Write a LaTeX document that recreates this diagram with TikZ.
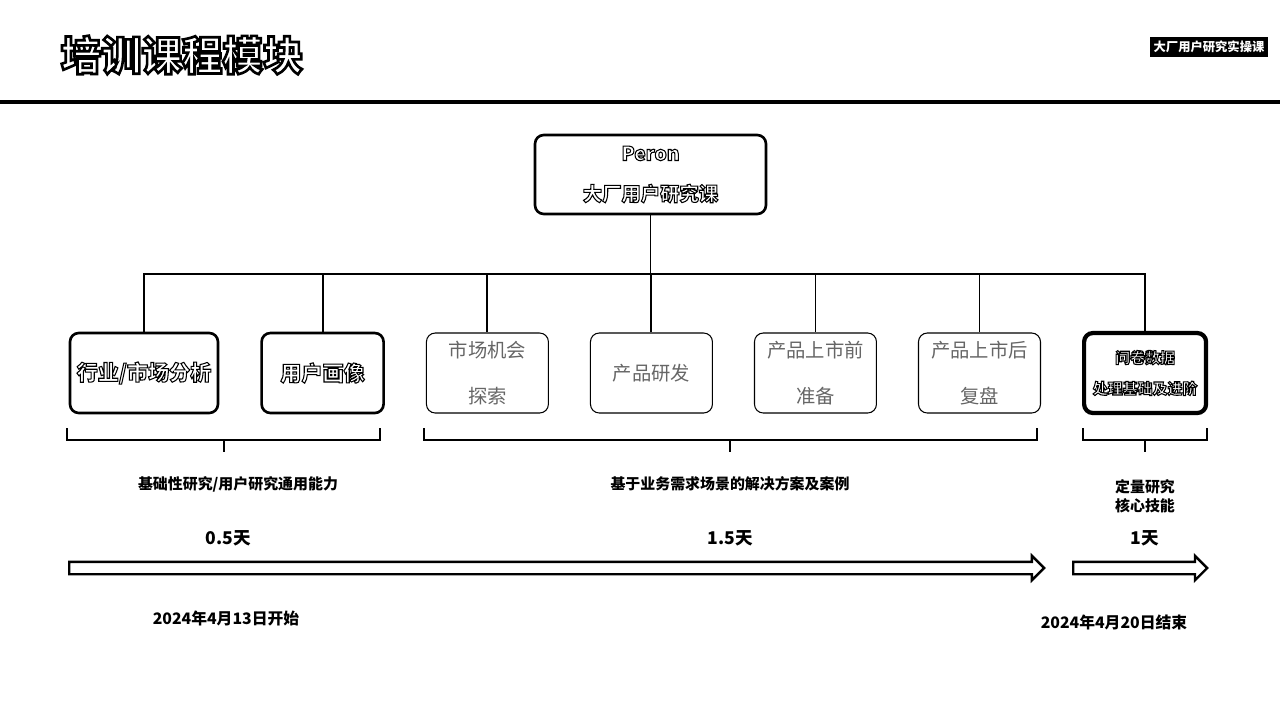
\documentclass[tikz,border=0pt]{standalone}
\usepackage{fontspec}
\setmainfont{Noto Sans CJK SC}
\usetikzlibrary{positioning, shapes.arrows}

% white letters with a black stroke round them
\newcommand{\outl}[2][0.6]{\textcolor{white}{\special{pdf:literal direct 0 G #1 w 2 Tr}#2\special{pdf:literal direct 0 Tr}}}

\begin{document}
\begin{tikzpicture}[
  x=0.02cm, y=-0.02cm,
  node distance=0.82cm,
  module/.style={draw=black, line width=1.5pt, rounded corners=5pt, fill=white,
    minimum width=2.44cm, minimum height=1.6cm, align=center,
    font=\fontsize{12}{26}\selectfont\bfseries},
  faint/.style={module, line width=0.6pt, text=black!60,
    font=\fontsize{11}{26}\selectfont},
  strong/.style={module, line width=2.4pt, font=\fontsize{8.5}{17.5}\selectfont\bfseries},
  label/.style={font=\fontsize{8.5}{11}\selectfont\bfseries, align=center},
  days/.style={font=\fontsize{10}{12}\selectfont\bfseries},
  date/.style={font=\fontsize{9}{11}\selectfont\bfseries},
  link/.style={line width=1.1pt},
  bracket/.style={line width=1.4pt},
  timeline/.style={single arrow, draw=black, line width=1.4pt, fill=white,
    single arrow head extend=0.12cm, single arrow head indent=0pt,
    inner sep=0.1cm, anchor=tail}
]
\useasboundingbox (0,0) rectangle (1280,718);

% header
\node (title) at (182,55) {\fontsize{23}{26}\selectfont\bfseries\outl[1.5]{培训课程模块}};
\node[fill=black, text=white, minimum width=2.36cm, minimum height=0.4cm, inner sep=1pt,
  font=\fontsize{7}{8}\selectfont\bfseries] (tag) at (1209,47) {大厂用户研究实操课};
\draw[line width=2.8pt] (0,102) -- (1280,102);

% course tree
\node[module, minimum width=4.62cm, minimum height=1.58cm,
  font=\fontsize{11}{23}\selectfont\bfseries] (root) at (650.5,174.5)
  {\outl{Peron}\\\outl{大厂用户研究课}};

\node[module, minimum width=2.96cm] (ind) at (144,373) {\outl{行业/市场分析}};
\node[module, right=of ind] (user) {\outl{用户画像}};
\node[faint, right=of user] (opp) {市场机会\\探索};
\node[faint, right=of opp] (dev) {产品研发};
\node[faint, right=of dev] (pre) {产品上市前\\准备};
\node[faint, right=of pre] (post) {产品上市后\\复盘};
\node[strong, right=of post] (quant) {\outl{问卷数据}\\\outl{处理基础及进阶}};

\coordinate (bus) at (650.5,274);
\draw[link] (root) -- (bus);
\foreach \m in {ind, user, opp, dev, pre, post, quant}
  \draw[link] (bus) -| (\m.north);

% brackets
\draw[bracket] (67,428) -- (67,440) -- (380,440) -- (380,428);
\draw[bracket] (224,440) -- (224,452);
\draw[bracket] (424,428) -- (424,440) -- (1037,440) -- (1037,428);
\draw[bracket] (730,440) -- (730,452);
\draw[bracket] (1083,428) -- (1083,440) -- (1207,440) -- (1207,428);
\draw[bracket] (1145,440) -- (1145,452);

\node[label] (basic) at (238,484) {基础性研究/用户研究通用能力};
\node[label] (scene) at (730,484) {基于业务需求场景的解决方案及案例};
\node[label] (core) at (1145,496) {定量研究\\核心技能};

% schedule
\node[days] (d1) at (228,538) {0.5天};
\node[days] (d2) at (730,538) {1.5天};
\node[days] (d3) at (1145,538) {1天};

\node[timeline, minimum height=19.5cm] (span1) at (68,568) {};
\node[timeline, minimum height=2.68cm] (span2) at (1072,568) {};

\node[date] (start) at (226,618) {2024年4月13日开始};
\node[date] (end) at (1114,622) {2024年4月20日结束};

\end{tikzpicture}
\end{document}
